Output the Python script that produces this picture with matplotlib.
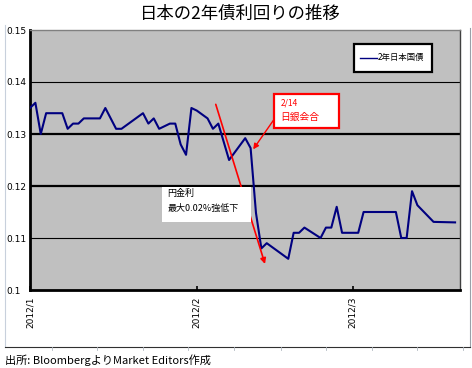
import matplotlib
matplotlib.use("Agg")
import matplotlib.pyplot as plt
from matplotlib.lines import Line2D
from matplotlib.patches import Rectangle
import pandas as pd

plt.rcParams['font.family'] = ['Noto Sans CJK JP', 'DejaVu Sans']

# ---- data ----
dates = ["2012-01-01", "2012-01-02", "2012-01-03", "2012-01-04", "2012-01-07",
         "2012-01-08", "2012-01-09", "2012-01-10", "2012-01-11", "2012-01-14",
         "2012-01-15", "2012-01-17", "2012-01-18", "2012-01-22", "2012-01-23",
         "2012-01-24", "2012-01-25", "2012-01-27", "2012-01-28", "2012-01-29",
         "2012-01-30", "2012-01-31", "2012-02-01", "2012-02-03", "2012-02-04",
         "2012-02-05", "2012-02-07", "2012-02-10", "2012-02-11", "2012-02-12",
         "2012-02-13", "2012-02-14", "2012-02-18", "2012-02-19", "2012-02-20",
         "2012-02-21", "2012-02-24", "2012-02-25", "2012-02-26", "2012-02-27",
         "2012-02-28", "2012-03-02", "2012-03-03", "2012-03-09", "2012-03-10",
         "2012-03-11", "2012-03-12", "2012-03-13", "2012-03-16", "2012-03-20"]
yields = [0.135, 0.136, 0.130, 0.134, 0.134, 0.131, 0.132, 0.132, 0.133, 0.133,
          0.135, 0.131, 0.131, 0.134, 0.132, 0.133, 0.131, 0.132, 0.132, 0.128,
          0.126, 0.135, 0.1345, 0.133, 0.131, 0.132, 0.125, 0.1292, 0.1273, 0.1148,
          0.108, 0.109, 0.106, 0.111, 0.111, 0.112, 0.110, 0.112, 0.112, 0.116,
          0.111, 0.111, 0.115, 0.115, 0.110, 0.110, 0.119, 0.1163, 0.1131, 0.113]
series_name = "2年日本国債"
title = "日本の2年債利回りの推移"
source = "出所: BloombergよりMarket Editors作成"
x_ticks = ["2012-01-01", "2012-02-01", "2012-03-01"]
x_tick_labels = ["2012/1", "2012/2", "2012/3"]
y_ticks = [0.10, 0.11, 0.12, 0.13, 0.14, 0.15]
y_tick_labels = ["0.1", "0.11", "0.12", "0.13", "0.14", "0.15"]

W, H = 472, 368
fig = plt.figure(figsize=(W / 100, H / 100), dpi=100)

def fx(px):
    return px / W

def fy(py):
    return 1 - py / H

# outer chart frame (light)
fig.add_artist(Line2D([fx(5), fx(5)], [fy(25), fy(347)], color="#c8d0dc", lw=0.8))
fig.add_artist(Line2D([fx(470), fx(470)], [fy(28), fy(347)], color="#9aa0a8", lw=0.8))
fig.add_artist(Line2D([fx(5), fx(470)], [fy(347), fy(347)], color="#303030", lw=0.8))
for px in [51.7, 96.7, 142.7, 188.3, 234.3, 280.7, 326, 371.7, 417.3, 463.3]:
    fig.add_artist(Line2D([fx(px), fx(px)], [fy(347), fy(350)], color="#b0b8c0", lw=0.6))

ax = fig.add_axes([fx(30), fy(290), (460 - 30) / W, (290 - 30) / H])
ax.set_facecolor("#c0c0c0")

x = pd.to_datetime(dates)
ax.plot(x, yields, color="#000080", lw=1.5, zorder=3)

ax.set_xlim(pd.Timestamp("2012-01-01"), pd.Timestamp("2012-03-20 22:00"))
ax.set_ylim(0.10, 0.15)

# gridlines
for v in y_ticks[1:-1]:
    ax.axhline(v, color="black", lw=1.6 if v in (0.12, 0.13) else 0.8, zorder=2)

ax.set_yticks(y_ticks)
ax.set_yticklabels(y_tick_labels, fontsize=6.5, family=["DejaVu Sans"])
for lab in ax.get_yticklabels():
    lab.set_horizontalalignment("left")
ax.tick_params(axis="y", length=0, pad=17.3)

ax.set_xticks(pd.to_datetime(x_ticks))
ax.set_xticklabels(x_tick_labels, rotation=90, fontsize=6.5, family=["DejaVu Sans"])
ax.tick_params(axis="x", direction="in", length=3, width=1.2, pad=5)

for s in ["left", "bottom"]:
    ax.spines[s].set_linewidth(2)
    ax.spines[s].set_color("black")
ax.spines["top"].set_color("#808080")
ax.spines["top"].set_linewidth(1)
ax.spines["right"].set_color("#404040")
ax.spines["right"].set_linewidth(1)

# legend box
ax.add_patch(Rectangle((0.754, 0.840), 0.180, 0.106, transform=ax.transAxes,
                       facecolor="white", edgecolor="black", lw=1.6, zorder=5))
ax.add_line(Line2D([0.768, 0.808], [0.893, 0.893], transform=ax.transAxes,
                   color="#000080", lw=1, zorder=6))
ax.text(0.808, 0.893, series_name, transform=ax.transAxes, fontsize=6,
        va="center", ha="left", zorder=6)

# red trend arrow (under the white box)
ax.annotate("", xy=(0.5465, 0.10), xytext=(0.432, 0.714), xycoords="axes fraction",
            arrowprops=dict(arrowstyle="-|>", color="red", lw=1.2,
                            mutation_scale=8, shrinkA=0, shrinkB=0), zorder=4)

# white box
ax.add_patch(Rectangle((0.306, 0.263), 0.208, 0.134, transform=ax.transAxes,
                       facecolor="white", edgecolor="none", zorder=5))
ax.text(0.320, 0.370, "円金利", transform=ax.transAxes, fontsize=6.5,
        va="center", ha="left", zorder=6)
ax.text(0.320, 0.315, "最大0.02%強低下", transform=ax.transAxes, fontsize=6.5,
        va="center", ha="left", zorder=6)

# BOJ box and arrow
ax.annotate("", xy=(0.519, 0.541), xytext=(0.570, 0.662), xycoords="axes fraction",
            arrowprops=dict(arrowstyle="-|>", color="red", lw=1.0,
                            mutation_scale=8, shrinkA=0, shrinkB=0), zorder=4)
ax.add_patch(Rectangle((0.568, 0.622), 0.151, 0.131, transform=ax.transAxes,
                       facecolor="white", edgecolor="red", lw=1.6, zorder=5))
ax.text(0.583, 0.718, "2/14", transform=ax.transAxes, fontsize=6,
        color="red", va="center", ha="left", zorder=6)
ax.text(0.583, 0.665, "日銀会合", transform=ax.transAxes, fontsize=7,
        color="red", va="center", ha="left", zorder=6)

fig.text(0.51, fy(14), title, fontsize=12.5, ha="center", va="center")
fig.text(fx(5), fy(360), source, fontsize=8, ha="left", va="center")

fig.savefig("out.png", dpi=100)
